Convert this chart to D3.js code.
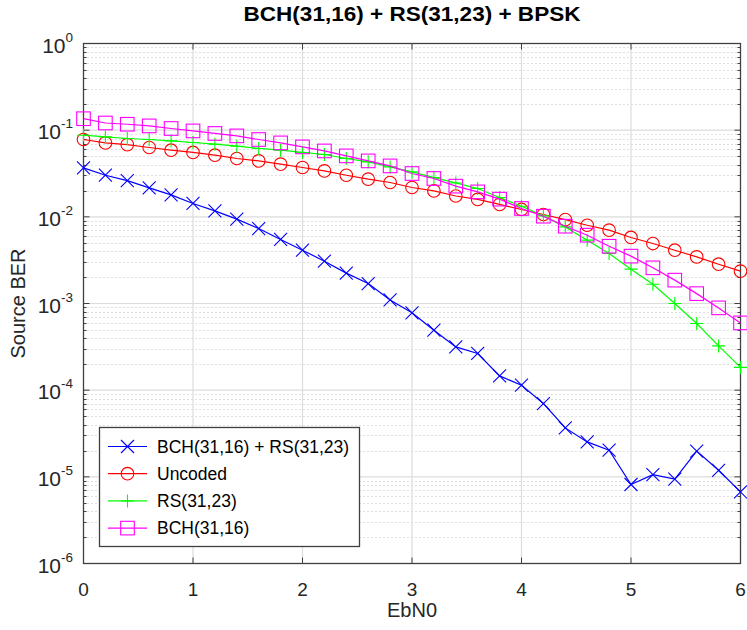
<!DOCTYPE html>
<html>
<head>
<meta charset="utf-8">
<script src="https://cdn.jsdelivr.net/npm/d3@7"></script>
<style>
body { margin: 0; background: #fff; }
svg text { font-family: "Liberation Sans", Arial, sans-serif; }
</style>
</head>
<body>
<svg width="747" height="630"></svg>
<script>
var ebn0 = d3.range(0, 31).map(function (i) { return +(i * 0.2).toFixed(1); });

var bchRs = [0.0367, 0.0302, 0.0262, 0.0216, 0.0179, 0.01426, 0.01172, 0.0094, 0.00733, 0.00548,
    0.00412, 0.00308, 0.00224, 0.00170, 0.00110, 0.00078, 0.000492, 0.000316, 0.000265, 0.000146,
    0.000114, 7.01e-5, 3.67e-5, 2.53e-5, 2.03e-5, 8.16e-6, 1.06e-5, 9.39e-6, 1.98e-5, 1.19e-5, 6.7e-6];
var uncoded = [0.078, 0.0713, 0.068, 0.0631, 0.0587, 0.0553, 0.0514, 0.0471, 0.0442, 0.0405,
    0.0371, 0.0339, 0.0302, 0.0272, 0.0249, 0.0218, 0.0199, 0.0174, 0.0159, 0.0139,
    0.01216, 0.01064, 0.0093, 0.0080, 0.00702, 0.00578, 0.00492, 0.00412, 0.00345, 0.00284, 0.00236];
var rs = [0.0875, 0.0836, 0.0801, 0.078, 0.0752, 0.0721, 0.0689, 0.0653, 0.0615, 0.0587,
    0.0553, 0.0524, 0.0471, 0.0431, 0.0377, 0.0330, 0.0284, 0.0246, 0.0212, 0.0167,
    0.01327, 0.01025, 0.00766, 0.00538, 0.00377, 0.00249, 0.00167, 0.00100, 0.000588, 0.000324, 0.000183];
var bch = [0.1356, 0.121, 0.117, 0.112, 0.1045, 0.098, 0.0916, 0.0859, 0.078, 0.0713,
    0.0641, 0.0576, 0.0505, 0.0442, 0.0387, 0.0316, 0.0277, 0.0226, 0.0194, 0.0160,
    0.01248, 0.01017, 0.0078, 0.00614, 0.00458, 0.00352, 0.00258, 0.00186, 0.0013, 0.00089, 0.000597];

var seriesNames = ['BCH(31,16) + RS(31,23)', 'Uncoded', 'RS(31,23)', 'BCH(31,16)'];
var seriesValues = [bchRs, uncoded, rs, bch];
var seriesColors = ['#0000ff', '#ff0000', '#00ff00', '#ff00ff'];
var seriesMarkers = ['x', 'o', '+', 's'];
var xTicks = [0, 1, 2, 3, 4, 5, 6];
var yExponents = [0, -1, -2, -3, -4, -5, -6];

var svg = d3.select('svg');
var pLeft = 83.5, pRight = 740.5, pTop = 43.5, pBottom = 563.5;

var x = d3.scaleLinear().domain([0, 6]).range([pLeft, pRight]);
var y = d3.scaleLog().domain([1e-6, 1]).range([pBottom, pTop]);

var axisColor = '#404040';

// minor grid (dotted)
var minor = [];
yExponents.slice(1).forEach(function (e) {
    for (var m = 2; m <= 9; m++) minor.push(m * Math.pow(10, e));
});
var grid = svg.append('g');
grid.selectAll('line.minor').data(minor).enter().append('line')
    .attr('x1', pLeft).attr('x2', pRight)
    .attr('y1', function (d) { return Math.round(y(d)) + 0.5; }).attr('y2', function (d) { return Math.round(y(d)) + 0.5; })
    .attr('stroke', '#c0c0c0').attr('stroke-width', 1).attr('stroke-dasharray', '1,3');

// major grid
grid.selectAll('line.majy').data(yExponents.slice(1, -1)).enter().append('line')
    .attr('x1', pLeft).attr('x2', pRight)
    .attr('y1', function (d) { return y(Math.pow(10, d)); }).attr('y2', function (d) { return y(Math.pow(10, d)); })
    .attr('stroke', '#dcdcdc').attr('stroke-width', 1.2);
grid.selectAll('line.majx').data(xTicks.slice(1, -1)).enter().append('line')
    .attr('y1', pTop).attr('y2', pBottom)
    .attr('x1', function (d) { return x(d); }).attr('x2', function (d) { return x(d); })
    .attr('stroke', '#dcdcdc').attr('stroke-width', 1.2);

// axes box and ticks
var axes = svg.append('g');
axes.append('rect').attr('x', pLeft).attr('y', pTop).attr('width', pRight - pLeft).attr('height', pBottom - pTop)
    .attr('fill', 'none').attr('stroke', axisColor).attr('stroke-width', 1.3);

xTicks.forEach(function (t) {
    axes.append('line').attr('x1', x(t)).attr('x2', x(t)).attr('y1', pBottom).attr('y2', pBottom - 6)
        .attr('stroke', axisColor);
    axes.append('line').attr('x1', x(t)).attr('x2', x(t)).attr('y1', pTop).attr('y2', pTop + 6)
        .attr('stroke', axisColor);
});
yExponents.forEach(function (e) {
    var yy = y(Math.pow(10, e));
    axes.append('line').attr('x1', pLeft).attr('x2', pLeft + 6).attr('y1', yy).attr('y2', yy).attr('stroke', axisColor);
    axes.append('line').attr('x1', pRight).attr('x2', pRight - 6).attr('y1', yy).attr('y2', yy).attr('stroke', axisColor);
});
minor.forEach(function (d) {
    var yy = Math.round(y(d)) + 0.5;
    axes.append('line').attr('x1', pLeft).attr('x2', pLeft + 3).attr('y1', yy).attr('y2', yy).attr('stroke', axisColor);
    axes.append('line').attr('x1', pRight).attr('x2', pRight - 3).attr('y1', yy).attr('y2', yy).attr('stroke', axisColor);
});

// tick labels
svg.append('g').selectAll('text').data(xTicks).enter().append('text')
    .attr('x', function (d) { return x(d); }).attr('y', 596)
    .attr('text-anchor', 'middle').attr('font-size', 19).attr('fill', '#262626')
    .text(function (d) { return d; });

var yl = svg.append('g').selectAll('text').data(yExponents).enter().append('text')
    .attr('x', 73).attr('y', function (d) { return y(Math.pow(10, d)) + 9; })
    .attr('text-anchor', 'end').attr('font-size', 21).attr('fill', '#262626');
yl.append('tspan').text('10');
yl.append('tspan').attr('dy', -11).attr('font-size', 13.5).text(function (d) { return d; });

// labels
svg.append('text').attr('x', (pLeft + pRight) / 2).attr('y', 617).attr('text-anchor', 'middle')
    .attr('font-size', 20).attr('fill', '#262626').text('EbN0');
svg.append('text').attr('transform', 'translate(25,' + ((pTop + pBottom) / 2) + ') rotate(-90)')
    .attr('text-anchor', 'middle').attr('font-size', 20).attr('fill', '#262626').text('Source BER');
svg.append('text').attr('x', 412).attr('y', 21).attr('text-anchor', 'middle')
    .attr('font-size', 21).attr('font-weight', 'bold').attr('fill', '#000')
    .attr('textLength', 337).attr('lengthAdjust', 'spacingAndGlyphs')
    .text('BCH(31,16) + RS(31,23) + BPSK');

function drawMarker(g, type, color) {
    if (type === 'x') {
        g.append('path').attr('d', 'M-6.5,-6.5L6.5,6.5M-6.5,6.5L6.5,-6.5');
    } else if (type === '+') {
        g.append('path').attr('d', 'M-6.5,0L6.5,0M0,-6.5L0,6.5');
    } else if (type === 'o') {
        g.append('circle').attr('r', 6.3);
    } else {
        g.append('rect').attr('x', -6.8).attr('y', -6.8).attr('width', 13.6).attr('height', 13.6);
    }
    g.selectAll('*').attr('fill', 'none').attr('stroke', color).attr('stroke-width', 1.1);
}

var line = d3.line().x(function (d, i) { return x(ebn0[i]); }).y(function (d) { return y(d); });

var plot = svg.append('g');
seriesValues.forEach(function (vals, s) {
    var g = plot.append('g');
    g.append('path').attr('d', line(vals)).attr('fill', 'none')
        .attr('stroke', seriesColors[s]).attr('stroke-width', 1.2);
    vals.forEach(function (v, i) {
        var m = g.append('g').attr('transform', 'translate(' + x(ebn0[i]) + ',' + y(v) + ')');
        drawMarker(m, seriesMarkers[s], seriesColors[s]);
    });
});

// legend
var legend = svg.append('g');
legend.append('rect').attr('x', 99.5).attr('y', 427.5).attr('width', 260).attr('height', 119)
    .attr('fill', '#fff').attr('stroke', axisColor).attr('stroke-width', 1.3);
seriesNames.forEach(function (name, s) {
    var yy = 446.5 + s * 27.2;
    legend.append('line').attr('x1', 108).attr('x2', 147).attr('y1', yy).attr('y2', yy)
        .attr('stroke', seriesColors[s]).attr('stroke-width', 1.2);
    var m = legend.append('g').attr('transform', 'translate(127.5,' + yy + ')');
    drawMarker(m, seriesMarkers[s], seriesColors[s]);
    legend.append('text').attr('x', 157).attr('y', yy + 6).attr('font-size', 17.5).attr('fill', '#000').text(name);
});
</script>
</body>
</html>
